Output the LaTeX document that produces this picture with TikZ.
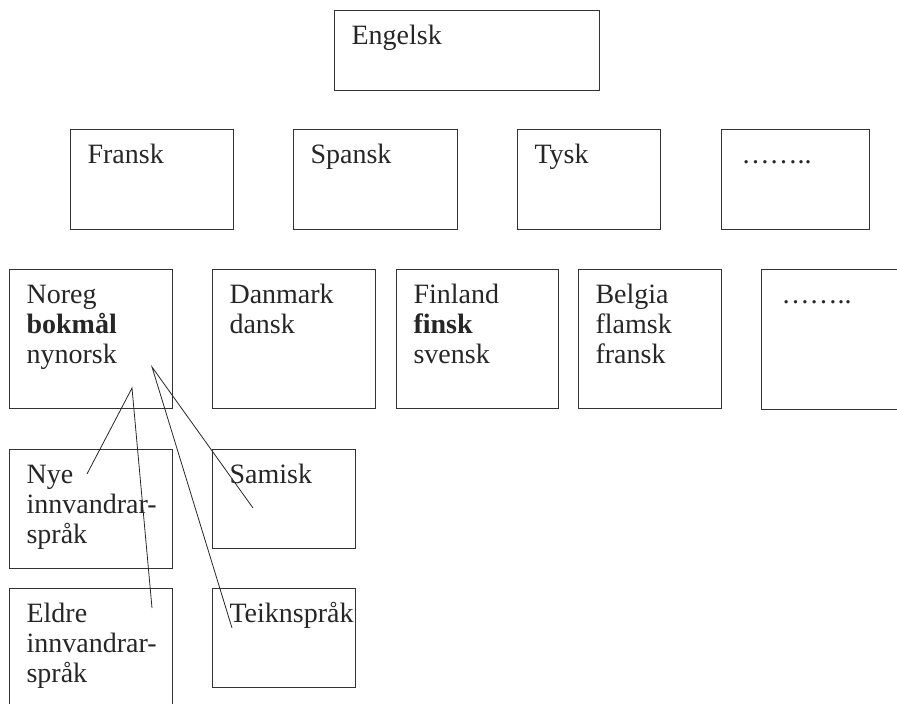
\documentclass[tikz,border=0pt]{standalone}
\usepackage{fontspec}
\setmainfont{Liberation Serif}
\tikzstyle{langbox} = [rectangle, draw=black!80, line width=1.1pt, anchor=north west, align=left, inner xsep=17pt, inner ysep=0pt, text height=34pt, text=black!85, font=\fontsize{28}{30}\selectfont]
\tikzstyle{link} = [line width=0.8pt, draw=black!85]

\begin{document}
\begin{tikzpicture}[x=1pt, y=-1pt]
        \useasboundingbox (0,0) rectangle (897,704);
        % top
        \node (engelsk) [langbox, text width=231pt, text depth=46pt] at (334,10) {Engelsk};

        % row 2
        \node (fransk) [langbox, text width=129pt, text depth=66pt] at (70,129) {Fransk};
        \node (spansk) [langbox, text width=130pt, text depth=66pt] at (293,129) {Spansk};
        \node (tysk) [langbox, text width=109pt, text depth=66pt] at (517,129) {Tysk};
        \node (more1) [langbox, text width=108pt, text depth=66pt, inner xsep=20pt] at (721,129) {……..};

        % row 3
        \node (noreg) [langbox, text width=129pt, text depth=105pt] at (9,269) {Noreg\\\textbf{bokmål}\\nynorsk};
        \node (danmark) [langbox, text width=129pt, text depth=105pt] at (212,269) {Danmark\\dansk};
        \node (finland) [langbox, text width=128pt, text depth=105pt] at (396,269) {Finland\\\textbf{finsk}\\svensk};
        \node (belgia) [langbox, text width=109pt, text depth=105pt] at (578,269) {Belgia\\flamsk\\fransk};
        \node (more2) [langbox, text width=126pt, text depth=106pt, inner xsep=20pt] at (761,269) {……..};

        % under Noreg
        \node (nye) [langbox, text width=129pt, text depth=85pt] at (9,449) {Nye\\\mbox{innvandrar-}\\språk};
        \node (samisk) [langbox, text width=109pt, text depth=65pt] at (212,449) {Samisk};
        \node (eldre) [langbox, text width=129pt, text depth=100pt] at (9,588) {Eldre\\\mbox{innvandrar-}\\språk};
        \node (teikn) [langbox, text width=109pt, text depth=65pt] at (212,588) {\mbox{Teiknspråk}};

        \coordinate (hubA) at (132,388);
        \coordinate (hubB) at (152,367);
        \coordinate (endnye) at (87,474);
        \coordinate (endeldre) at (152,608);
        \coordinate (endsamisk) at (253,508);
        \coordinate (endteikn) at (232,628);

        \draw [link] (endnye) -- (hubA) -- (endeldre);
        \draw [link] (endsamisk) -- (hubB) -- (endteikn);
      \end{tikzpicture}
\end{document}
